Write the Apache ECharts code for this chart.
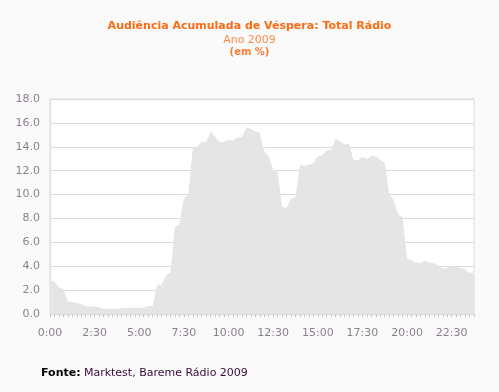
<!DOCTYPE html>
<html><head><meta charset="utf-8">
<script src="https://cdn.jsdelivr.net/npm/echarts@6/dist/echarts.min.js"></script>
<style>html,body{margin:0;padding:0;background:#fafafa;}#c{width:499px;height:392px;}</style>
</head><body><div id="c"></div>
<script>
// categories: quarter-hours 0:00 .. 23:45
var categories = [];
for (var h = 0; h < 24; h++) { for (var m = 0; m < 60; m += 15) { categories.push(h + ':' + (m < 10 ? '0' + m : m)); } }
var audience = [
 2.8, 2.7, 2.2, 2.1, 1.05, 1.0, 0.95, 0.82, 0.65, 0.63,
 0.62, 0.55, 0.44, 0.42, 0.42, 0.42, 0.5, 0.52, 0.52, 0.52,
 0.52, 0.55, 0.67, 0.67, 2.45, 2.45, 3.2, 3.5, 7.35, 7.5,
 9.7, 10.0, 14.0, 14.0, 14.45, 14.4, 15.3, 14.85, 14.4, 14.4,
 14.6, 14.5, 14.8, 14.8, 15.6, 15.5, 15.3, 15.15, 13.6, 13.2,
 12.1, 11.9, 9.0, 8.87, 9.65, 9.8, 12.45, 12.4, 12.5, 12.6,
 13.2, 13.3, 13.7, 13.75, 14.65, 14.45, 14.2, 14.3, 12.9, 12.9,
 13.15, 12.95, 13.28, 13.17, 12.92, 12.65, 10.0, 9.57, 8.3, 8.1,
 4.62, 4.5, 4.27, 4.27, 4.47, 4.33, 4.22, 4.07, 3.8, 3.85,
 4.0, 3.96, 3.85, 3.75, 3.46, 3.43
];
var titleText = 'Audiência Acumulada de Véspera: Total Rádio';
var subText1 = 'Ano 2009';
var subText2 = '(em %)';
var yMin = 0, yMax = 18, yStep = 2;

var chart = echarts.init(document.getElementById('c'), null, {renderer: 'canvas'});
var ff = 'DejaVu Sans';
chart.setOption({
  backgroundColor: '#fafafa',
  animation: false,
  graphic: [
    {type: 'text', left: 'center', top: 21, style: {text: titleText, font: 'bold 11px "DejaVu Sans"', fill: '#ff6a13'}},
    {type: 'text', left: 'center', top: 35, style: {text: subText1, font: '11px "DejaVu Sans"', fill: '#ff8a4a'}},
    {type: 'text', left: 'center', top: 47, style: {text: subText2, font: 'bold 10px "DejaVu Sans"', fill: '#ff7a33'}},
    {type: 'text', left: 41, top: 367, style: {
      text: '{b|Fonte:} {n|Marktest, Bareme Rádio 2009}',
      rich: {b: {font: 'bold 11px "DejaVu Sans"', fill: '#000'}, n: {font: '11px "DejaVu Sans"', fill: '#3a0a3a'}}
    }}
  ],
  grid: {left: 50, right: 25, top: 99, bottom: 78, show: true, backgroundColor: '#ffffff', borderColor: '#dcdcdc', borderWidth: 1},
  xAxis: {
    type: 'category', boundaryGap: false, data: categories,
    axisLine: {lineStyle: {color: '#dcdcdc'}},
    axisTick: {interval: 0, length: 3, lineStyle: {color: '#c8c8c8'}},
    axisLabel: {interval: 9, color: '#8a7f8c', fontFamily: ff, fontSize: 11, margin: 14},
    splitLine: {show: false}
  },
  yAxis: {
    type: 'value', min: yMin, max: yMax, interval: yStep,
    axisLine: {show: true, lineStyle: {color: '#dcdcdc'}},
    axisTick: {show: false},
    axisLabel: {color: '#8a7f8c', fontFamily: ff, fontSize: 11, margin: 10, formatter: function (v) { return v.toFixed(1); }},
    splitLine: {lineStyle: {color: '#dcdcdc'}}
  },
  series: [{
    type: 'line', data: audience, symbol: 'none',
    lineStyle: {width: 0, color: '#e5e5e5'},
    areaStyle: {color: '#e5e5e5', opacity: 1}
  }]
});
</script></body></html>
